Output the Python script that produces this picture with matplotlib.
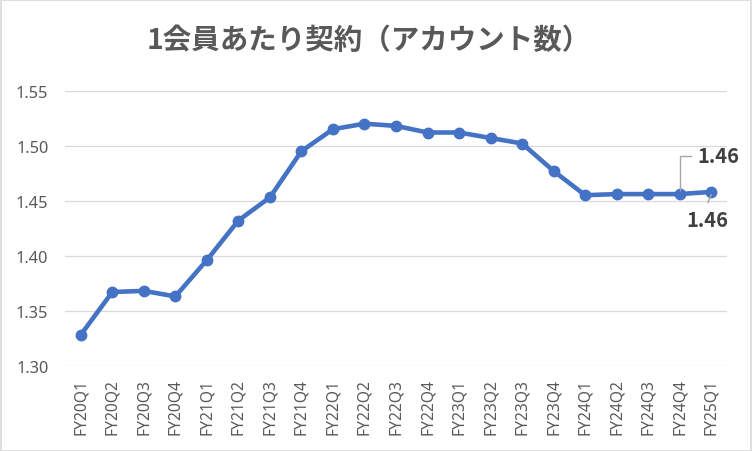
import matplotlib
matplotlib.use("Agg")
import matplotlib.pyplot as plt
from matplotlib.patches import Rectangle
from matplotlib.lines import Line2D

categories = ["FY20Q1", "FY20Q2", "FY20Q3", "FY20Q4",
              "FY21Q1", "FY21Q2", "FY21Q3", "FY21Q4",
              "FY22Q1", "FY22Q2", "FY22Q3", "FY22Q4",
              "FY23Q1", "FY23Q2", "FY23Q3", "FY23Q4",
              "FY24Q1", "FY24Q2", "FY24Q3", "FY24Q4",
              "FY25Q1"]
values = [1.328, 1.367, 1.368, 1.363,
          1.396, 1.432, 1.453, 1.495,
          1.515, 1.520, 1.518, 1.512,
          1.512, 1.507, 1.502, 1.477,
          1.455, 1.456, 1.456, 1.456,
          1.458]
yticks = [1.30, 1.35, 1.40, 1.45, 1.50, 1.55]
title = "1会員あたり契約（アカウント数）"
labelled = [19, 20]

plt.rcParams['font.family'] = ['Noto Sans', 'Noto Sans CJK JP', 'DejaVu Sans']

W, H = 752, 452
fig = plt.figure(figsize=(W / 100, H / 100), dpi=100)
fig.patch.set_facecolor("white")
fig.add_artist(Rectangle((0.5 / W, 0.5 / H), 1 - 1.5 / W, 1 - 1.5 / H,
                         transform=fig.transFigure, fill=False,
                         edgecolor="#D9D9D9", linewidth=1.2))

left, right, top, bottom = 65, 727, 91.7, 366.7
ax = fig.add_axes([left / W, 1 - bottom / H, (right - left) / W, (bottom - top) / H])

x = list(range(len(categories)))
ax.plot(x, values, color="#4472C4", linewidth=3.3, marker="o",
        markersize=7.5, markerfacecolor="#4472C4", markeredgecolor="#4472C4",
        solid_capstyle="round", solid_joinstyle="round", zorder=3, clip_on=False)

ax.set_xlim(-0.5, len(categories) - 0.5)
ax.set_ylim(yticks[0], yticks[-1])
ax.set_yticks(yticks)
ax.set_yticklabels([f"{v:.2f}" for v in yticks])
ax.set_xticks(x)
ax.set_xticklabels(categories, rotation=90, va="top", ha="center")
ax.grid(axis="y", color="#D9D9D9", linewidth=0.9)
ax.set_axisbelow(True)
for s in ax.spines.values():
    s.set_visible(False)
ax.tick_params(axis="y", length=0, pad=12, labelsize=11.8, labelcolor="#595959")
ax.tick_params(axis="x", length=0, pad=9, labelsize=11.2, labelcolor="#595959")

fig.text(0.49, 1 - 41 / H, title, ha="center", va="center",
         fontsize=20.5, fontweight="bold", color="#595959",
         family=["Noto Sans CJK JP", "DejaVu Sans"])


def leader(idx, pts):
    px, py = ax.transData.transform((idx, values[idx]))
    inv = fig.transFigure.inverted()
    fpts = [inv.transform((px + a / 72 * fig.dpi, py + b / 72 * fig.dpi)) for a, b in pts]
    fig.add_artist(Line2D([p[0] for p in fpts], [p[1] for p in fpts],
                          color="#A6A6A6", linewidth=1.0, zorder=2))


label_font = dict(fontsize=14.5, fontweight="bold", color="#404040",
                  family=["Noto Sans CJK JP", "DejaVu Sans"])

leader(labelled[0], [(0, 3), (0, 27.4), (8.2, 27.4)])
ax.annotate(f"{values[labelled[0]]:.2f}", (labelled[0], values[labelled[0]]),
            xytext=(13.0, 27.5), textcoords="offset points",
            ha="left", va="center", annotation_clip=False, **label_font)
leader(labelled[1], [(0, -2), (-2.4, -7.7)])
ax.annotate(f"{values[labelled[1]]:.2f}", (labelled[1], values[labelled[1]]),
            xytext=(-3, -20), textcoords="offset points",
            ha="center", va="center", annotation_clip=False, **label_font)

fig.savefig("out.png", dpi=100)
